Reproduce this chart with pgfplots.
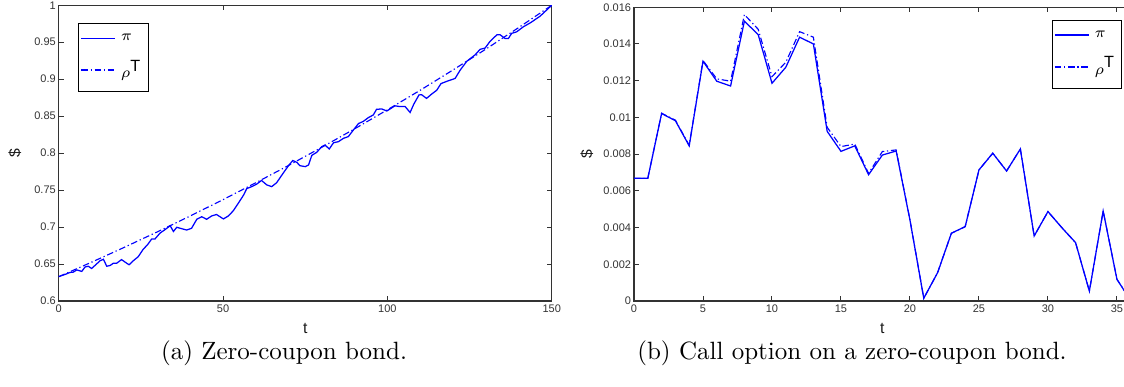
\documentclass[border=0pt]{standalone}
\usepackage{pgfplots}
\pgfplotsset{compat=1.18}
\usepackage{fontspec}
\newfontfamily\mlfont{Liberation Sans}

\pgfplotsset{
  mlaxis/.style={
    scale only axis,
    axis line style={draw=black!80, line width=0.5pt},
    tick style={draw=black!80, line width=0.4pt},
    tick align=inside,
    major tick length=2pt,
    ticklabel style={font=\mlfont\fontsize{4.4}{5}\selectfont, text=black!80},
    yticklabel style={inner sep=1pt},
    xticklabel style={inner sep=1.2pt},
    /pgf/number format/assume math mode=true,
    label style={font=\mlfont\fontsize{6.3}{7}\selectfont, text=black!90},
    legend style={font=\fontsize{6.5}{7.5}\selectfont, inner xsep=0.6pt, inner ysep=2.2pt, row sep=2.4pt},
    legend cell align=left,
    legend image code/.code={\draw[mark=none,#1,line width=0.65pt] plot coordinates {(0pt,0.2pt) (13.5pt,0.2pt)};},
    scaled ticks=false,
  },
  pil/.style={blue, solid, line width=0.5pt},
  rhol/.style={blue, line width=0.45pt, dash pattern=on 2.6pt off 1.1pt on 0.5pt off 1.1pt},
}

\begin{document}
\begin{tikzpicture}
\begin{axis}[mlaxis,
  at={(23.5pt,34.4pt)}, anchor=south west,
  width=197.2pt, height=118.3pt,
  xmin=0, xmax=150, ymin=0.6, ymax=1,
  xtick={0,50,100,150}, xticklabels={0,50,100,150},
  ytick={0.6,0.65,0.7,0.75,0.8,0.85,0.9,0.95,1},
  yticklabels={0.6,0.65,0.7,0.75,0.8,0.85,0.9,0.95,1},
  xlabel={t}, ylabel={\$},
  xlabel style={at={(axis description cs:0.5,-0.093)}, anchor=center},
  ylabel style={at={(axis description cs:-0.089,0.5)}, anchor=center},
  legend style={at={(0.04,0.94)}, anchor=north west},
]
\addplot[pil] table {
0 0.633
2 0.636
3.4 0.6386
4.4 0.639
5.5 0.642
7 0.640
8 0.646
9 0.647
10 0.644
11 0.648
12.6 0.6545
13.6 0.6564
14.6 0.647
15.6 0.648
16.6 0.651
17.6 0.651
19.1 0.656
20.7 0.651
21.4 0.649
22.7 0.6545
24.2 0.660
25.7 0.670
27 0.676
28.3 0.684
29.3 0.684
30.8 0.6918
32.3 0.6964
33.9 0.7018
34.9 0.694
35.9 0.6997
37.4 0.6978
38.9 0.696
40.4 0.6983
42 0.7105
43.5 0.714
45 0.7105
46.5 0.715
48 0.717
50.1 0.711
51.6 0.715
53.1 0.722
54.6 0.732
56.2 0.743
57.2 0.752
58.7 0.7547
60.2 0.758
61.7 0.763
63.3 0.757
64.8 0.7547
66.3 0.760
68.3 0.773
69.9 0.783
71.2 0.790
72.4 0.7876
73.4 0.783
75 0.7817
76 0.784
77 0.797
78.5 0.8011
80 0.8087
81 0.811
82.3 0.8056
83.6 0.814
85.1 0.8155
86.6 0.820
88.1 0.8223
89.6 0.831
91.2 0.840
92.7 0.843
94.2 0.848
95.7 0.8516
96.7 0.8593
98.3 0.8597
99.8 0.857
100.8 0.8597
102.3 0.864
103.8 0.8629
105.4 0.8629
106.9 0.855
108 0.866
109.6 0.8787
110.4 0.879
111.9 0.874
113.5 0.880
115 0.885
116.3 0.894
118 0.897
120.6 0.901
122.1 0.912
124.1 0.924
126.7 0.933
128.2 0.9404
129.7 0.942
131.2 0.951
133.3 0.960
134.3 0.960
135.8 0.955
136.8 0.955
137.8 0.962
139.3 0.964
141.4 0.971
143.4 0.976
146.4 0.985
150 1.0
};
\addlegendentry{$\pi$}
\addplot[rhol] table {
0 0.6329
10 0.6525
20 0.6727
30 0.6935
40 0.7150
50 0.7371
60 0.7600
70 0.7835
80 0.8078
90 0.8328
100 0.8586
110 0.8851
120 0.9126
130 0.9408
140 0.9700
150 1.0
};
\addlegendentry{$\rho^{\mbox{\mlfont T}}$}
\end{axis}

\begin{axis}[mlaxis,
  at={(253.6pt,34.4pt)}, anchor=south west,
  width=198.7pt, height=117.5pt,
  xmin=0, xmax=36, ymin=0, ymax=0.016,
  xtick={0,5,10,15,20,25,30,35}, xticklabels={0,5,10,15,20,25,30,35},
  ytick={0,0.002,0.004,0.006,0.008,0.01,0.012,0.014,0.016},
  yticklabels={0,0.002,0.004,0.006,0.008,0.01,0.012,0.014,0.016},
  xlabel={t}, ylabel={\$},
  xlabel style={at={(axis description cs:0.5,-0.094)}, anchor=center},
  ylabel style={at={(axis description cs:-0.095,0.5)}, anchor=center},
  legend style={at={(0.983,0.958)}, anchor=north east},
]
\addplot[pil] table {
0 0.00668
1 0.00668
2 0.01021
3 0.00982
4 0.00845
5 0.01306
6 0.01197
7 0.01171
8 0.01524
9 0.01451
10 0.01186
11 0.01273
12 0.01437
13 0.01400
14 0.00924
15 0.00815
16 0.00845
17 0.00688
18 0.00795
19 0.00817
20 0.00440
21 0.00015
22 0.00154
23 0.00369
24 0.00405
25 0.00714
26 0.00805
27 0.00708
28 0.00828
29 0.00354
30 0.00487
31 0.00400
32 0.00318
33 0.00054
34 0.00490
35 0.00118
36 0.00002
};
\addlegendentry{$\pi$}
\addplot[rhol] table {
0 0.00668
1 0.00668
2 0.01023
3 0.00985
4 0.00848
5 0.01310
6 0.01210
7 0.01197
8 0.01560
9 0.01480
10 0.01222
11 0.01300
12 0.01467
13 0.01437
14 0.00946
15 0.00841
16 0.00855
17 0.00695
18 0.00814
19 0.00823
20 0.00442
21 0.00015
22 0.00154
23 0.00369
24 0.00405
25 0.00714
26 0.00805
27 0.00708
28 0.00828
29 0.00354
30 0.00487
31 0.00400
32 0.00318
33 0.00054
34 0.00490
35 0.00118
36 0.00002
};
\addlegendentry{$\rho^{\mbox{\mlfont T}}$}
\end{axis}

\node[anchor=base] at (113.6pt,10.8pt) {(a) Zero-coupon bond.};
\node[anchor=base] at (340.8pt,10.8pt) {(b) Call option on a zero-coupon bond.};

\pgfresetboundingbox
\path[use as bounding box] (0pt,0pt) rectangle (449.6pt,154.8pt);
\end{tikzpicture}
\end{document}
